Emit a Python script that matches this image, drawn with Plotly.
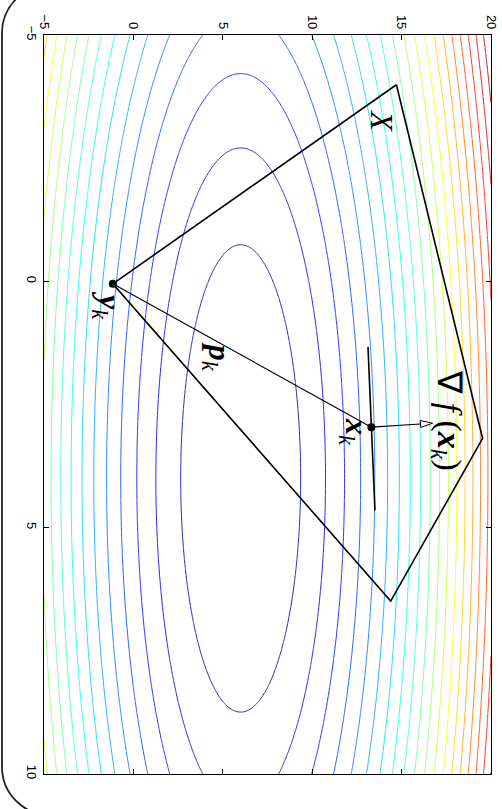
import numpy as np
import plotly.graph_objects as go

# ---------------- data ----------------
# screen horizontal axis (second coordinate) and screen vertical axis (first coordinate, downwards)
h_range = [-5, 20]
v_range = [-5, 10]
h_ticks = [-5, 0, 5, 10, 15, 20]
v_ticks = [-5, 0, 5, 10]

# quadratic objective whose level sets are the contour ellipses
f_center_h = 6.0
f_center_v = 4.0
f_weight_h = 2.0
f_weight_v = 1.0
level_start = 22.5
level_end = 450.0
level_step = 22.5
level_cmin = 0.0
level_cmax = 472.5

# feasible set X (polygon, closed)
poly_h = [14.71, 19.53, 14.39, -1.15, 14.71]
poly_v = [-3.99, 3.19, 6.49, 0.05, -3.99]

# points
yk_h, yk_v = -1.15, 0.05
xk_h, xk_v = 13.31, 2.96
grad_tip_h, grad_tip_v = 16.73, 2.88
tangent_h = [13.12, 13.51]
tangent_v = [1.33, 4.65]

# labels
label_X = dict(h=13.9, v=-3.25)
label_grad = dict(h=17.55, v=2.82)
label_xk = dict(h=12.4, v=3.06)
label_pk = dict(h=4.7, v=1.54)
label_yk = dict(h=-1.45, v=0.49)

# ---------------- layout constants ----------------
W, H = 502, 809
ML, MR, MT, MB = 44, 11, 35, 35
PW, PH = W - ML - MR, H - MT - MB


def jet(t):
    t = float(np.clip(t, 0, 1))
    r = np.clip(1.5 - abs(4 * t - 3), 0, 1)
    g = np.clip(1.5 - abs(4 * t - 2), 0, 1)
    b = np.clip(1.5 - abs(4 * t - 1), 0, 1)
    return "rgb(%d,%d,%d)" % (round(r * 255), round(g * 255), round(b * 255))


levels = np.arange(level_start, level_end + level_step / 2, level_step)
colorscale = []
for L in levels:
    t = (L - level_start) / (level_end - level_start)
    colorscale.append([t, jet((L - level_cmin) / (level_cmax - level_cmin))])

gh = np.linspace(h_range[0], h_range[1], 501)
gv = np.linspace(v_range[0], v_range[1], 301)
GH, GV = np.meshgrid(gh, gv)
Z = f_weight_h * (GH - f_center_h) ** 2 + f_weight_v * (GV - f_center_v) ** 2

fig = go.Figure()
fig.add_trace(go.Contour(
    x=gh, y=gv, z=Z,
    contours=dict(start=level_start, end=level_end, size=level_step, coloring="lines"),
    line=dict(width=1),
    colorscale=colorscale, showscale=False, hoverinfo="skip", opacity=0.85,
))

# polygon X
fig.add_trace(go.Scatter(x=poly_h, y=poly_v, mode="lines",
                         line=dict(color="black", width=1.6), hoverinfo="skip"))
# p_k segment
fig.add_trace(go.Scatter(x=[yk_h, xk_h], y=[yk_v, xk_v], mode="lines",
                         line=dict(color="black", width=1.2), hoverinfo="skip"))
# tangent line
fig.add_trace(go.Scatter(x=tangent_h, y=tangent_v, mode="lines",
                         line=dict(color="black", width=1.6), hoverinfo="skip"))

# gradient arrow with open head
sx = PW / (h_range[1] - h_range[0])
sy = PH / (v_range[1] - v_range[0])
dx_px = (grad_tip_h - xk_h) * sx
dy_px = (grad_tip_v - xk_v) * sy
n = np.hypot(dx_px, dy_px)
ux, uy = dx_px / n, dy_px / n
head_len, head_half = 12.0, 3.5
base_h = grad_tip_h - head_len * ux / sx
base_v = grad_tip_v - head_len * uy / sy
c1_h = base_h + head_half * (-uy) / sx
c1_v = base_v + head_half * (ux) / sy
c2_h = base_h - head_half * (-uy) / sx
c2_v = base_v - head_half * (ux) / sy
fig.add_trace(go.Scatter(x=[xk_h, base_h], y=[xk_v, base_v], mode="lines",
                         line=dict(color="black", width=1.2), hoverinfo="skip"))
fig.add_trace(go.Scatter(x=[grad_tip_h, c1_h, c2_h, grad_tip_h], y=[grad_tip_v, c1_v, c2_v, grad_tip_v],
                         mode="lines", fill="toself", fillcolor="white",
                         line=dict(color="black", width=1), hoverinfo="skip"))

# points
fig.add_trace(go.Scatter(x=[yk_h, xk_h], y=[yk_v, xk_v], mode="markers",
                         marker=dict(color="black", size=8), hoverinfo="skip"))

serif = "Liberation Serif, Times New Roman, serif"
ann = []


def add_label(pos, text, size):
    ann.append(dict(x=pos["h"], y=pos["v"], xref="x", yref="y", text=text, showarrow=False,
                    textangle=90, xanchor="center", yanchor="middle",
                    font=dict(family=serif, size=size, color="black")))


add_label(label_X, "<i>X</i>", 32)
add_label(label_grad, "∇ <i>f</i> (<b><i>x</i></b><sub><i>k</i></sub>)", 34)
add_label(label_xk, "<b><i>x</i></b><sub><i>k</i></sub>", 32)
add_label(label_pk, "<b><i>p</i></b><sub><i>k</i></sub>", 32)
add_label(label_yk, "<b><i>y</i></b><sub><i>k</i></sub>", 32)


# rounded page frame (only its left side falls inside the picture)
def px2paper(px, py):
    return (px - ML) / PW, (H - MB - py) / PH


r = 48.0
k = 0.5523 * r
pts = [(2 + r, -15), (2 + r - k, -15), (2, 33 - k), (2, 33), (2, 767),
       (2, 767 + k), (2 + r - k, 815), (2 + r, 815)]
pp = [px2paper(*p) for p in pts]
path = "M %f,%f C %f,%f %f,%f %f,%f L %f,%f C %f,%f %f,%f %f,%f" % tuple(
    c for p in pp for c in p)
fig.add_shape(type="path", path=path, xref="paper", yref="paper",
              line=dict(color="#222222", width=1.8), layer="above")

axis_common = dict(showgrid=False, zeroline=False, showline=True, linecolor="black", linewidth=1.2,
                   ticks="inside", ticklen=5, tickwidth=1, tickcolor="black", mirror="ticks",
                   tickangle=90, automargin=False,
                   tickfont=dict(family="Liberation Sans, Arial, sans-serif", size=13, color="black"))
fig.update_layout(
    width=W, height=H, margin=dict(l=ML, r=MR, t=MT, b=MB, autoexpand=False),
    paper_bgcolor="white", plot_bgcolor="white", showlegend=False,
    xaxis=dict(range=h_range, tickvals=h_ticks, side="top", **axis_common),
    yaxis=dict(range=[v_range[1], v_range[0]], tickvals=v_ticks, **axis_common),
    annotations=ann,
)
fig.write_html("out.html", config={"displayModeBar": False},
               post_script="document.body.style.margin='0';document.body.style.overflow='hidden';")
